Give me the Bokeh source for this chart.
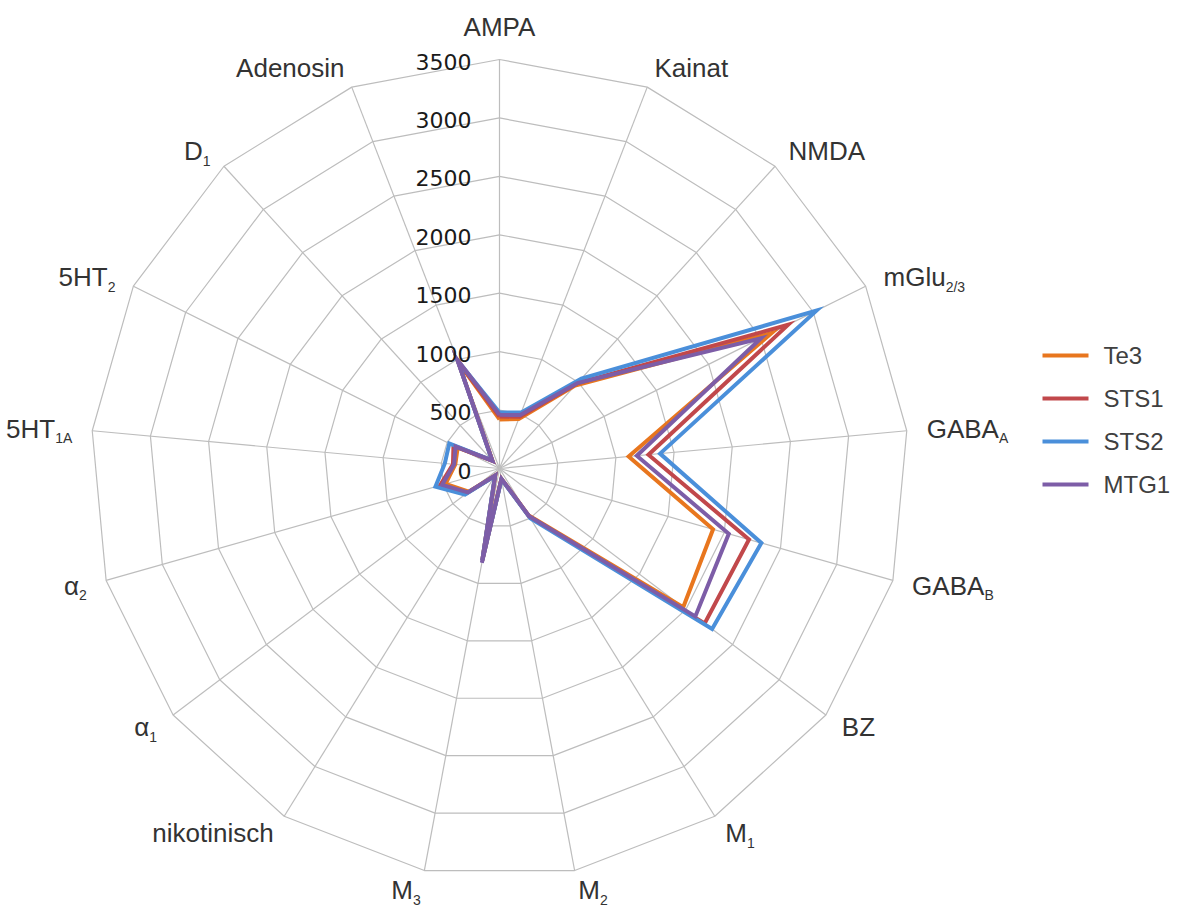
import math

from bokeh.core.properties import value
from bokeh.embed import file_html
from bokeh.models import Range1d
from bokeh.plotting import figure
from bokeh.resources import INLINE

# Receptor axes, clockwise from the top
label_main = ["AMPA", "Kainat", "NMDA", "mGlu", "GABA", "GABA", "BZ", "M", "M", "M",
              "nikotinisch", "α", "α", "5HT", "5HT", "D", "Adenosin"]
label_sub = ["", "", "", "2/3", "A", "B", "", "1", "2", "3",
             "", "1", "2", "1A", "2", "1", ""]

# Receptor densities per region (fmol/mg protein)
te3 = [420, 455, 960, 2600, 1110, 1900, 1970, 470, 90, 800, 70, 330, 480, 380, 400, 90, 980]
sts1 = [445, 475, 985, 2760, 1280, 2220, 2200, 480, 90, 800, 70, 350, 530, 400, 440, 90, 980]
sts2 = [480, 515, 1040, 3030, 1380, 2330, 2280, 500, 95, 800, 75, 370, 570, 470, 480, 95, 990]
mtg1 = [460, 490, 990, 2500, 1180, 2040, 2100, 480, 90, 820, 70, 340, 510, 390, 420, 90, 1000]

series_names = ["Te3", "STS1", "STS2", "MTG1"]
series_values = [te3, sts1, sts2, mtg1]
series_colors = ["#E8761E", "#C1484B", "#4A8FDA", "#7D5DA7"]

tick_values = [0, 500, 1000, 1500, 2000, 2500, 3000, 3500]

# Canvas geometry (pixels)
W, H = 1185, 910
CX, CY = 499, 468          # centre of the web
R_MAX = 3500
R_PX = 409                 # radius of the outer ring
k = R_MAX / R_PX           # data units per pixel

n = len(label_main)
ux = [math.sin(2 * math.pi * i / n) for i in range(n)]
uy = [math.cos(2 * math.pi * i / n) for i in range(n)]

p = figure(width=W, height=H,
           x_range=Range1d(-CX * k, (W - CX) * k),
           y_range=Range1d(-(H - CY) * k, CY * k),
           output_backend="svg", toolbar_location=None,
           x_axis_location=None, y_axis_location=None,
           min_border=0, outline_line_color=None,
           background_fill_color="white", border_fill_color="white")
p.grid.visible = False

GRID = "#BDBDBD"

# spokes
p.segment(x0=[0] * n, y0=[0] * n,
          x1=[R_MAX * a for a in ux], y1=[R_MAX * b for b in uy],
          line_color=GRID, line_width=1.2)

# rings
ring_xs, ring_ys = [], []
for r in tick_values[1:]:
    ring_xs.append([r * a for a in ux] + [r * ux[0]])
    ring_ys.append([r * b for b in uy] + [r * uy[0]])
p.multi_line(xs=ring_xs, ys=ring_ys, line_color=GRID, line_width=1.2)

# data series
for name, vals, col in zip(series_names, series_values, series_colors):
    xs = [v * a for v, a in zip(vals, ux)] + [vals[0] * ux[0]]
    ys = [v * b for v, b in zip(vals, uy)] + [vals[0] * uy[0]]
    p.line(xs, ys, line_color=col, line_width=4, line_join="miter")

# radial tick labels along the top spoke
p.text(x=[0] * len(tick_values), y=tick_values, text=[str(t) for t in tick_values],
       x_offset=-28, y_offset=2, text_align="right", text_baseline="middle",
       text_font=value("DejaVu Sans"), text_font_size="22px", text_color="#1A1A1A")

# approximate Liberation Sans advance widths (em)
ADV = {"A": .667, "B": .667, "D": .722, "G": .778, "H": .722, "K": .667, "M": .833,
       "N": .722, "P": .667, "T": .611, "Z": .611, "a": .556, "c": .5, "d": .556,
       "e": .556, "h": .556, "i": .222, "k": .5, "l": .222, "m": .833, "n": .556,
       "o": .556, "s": .5, "t": .278, "u": .556, "/": .278, "α": .58}


def text_width(s, size):
    return sum(ADV.get(ch, .556) for ch in s) * size


MAIN_SIZE, SUB_SIZE = 26, 14
LABEL_GAP = 20
SUB_DROP = 9.5
r_lab = R_PX + LABEL_GAP

groups = {}


def put(key, x, y, t):
    g = groups.setdefault(key, {"x": [], "y": [], "text": []})
    g["x"].append(x * k)
    g["y"].append(y * k)
    g["text"].append(t)


for i in range(n):
    ax, ay = r_lab * ux[i], r_lab * uy[i]
    main, sub = label_main[i], label_sub[i]
    wm, ws = text_width(main, MAIN_SIZE), text_width(sub, SUB_SIZE)
    if ux[i] > 0.05:
        put(("main", "left", "middle"), ax, ay, main)
        if sub:
            put(("sub", "left", "middle"), ax + wm, ay - SUB_DROP, sub)
    elif ux[i] < -0.05:
        put(("main", "right", "middle"), ax - ws, ay, main)
        if sub:
            put(("sub", "right", "middle"), ax, ay - SUB_DROP, sub)
    else:
        put(("main", "center", "bottom"), ax, ay - 2, main)

for (kind, align, base), g in groups.items():
    size = MAIN_SIZE if kind == "main" else SUB_SIZE
    p.text(x=g["x"], y=g["y"], text=g["text"], text_align=align, text_baseline=base,
           text_font=value("Liberation Sans"), text_font_size=f"{size}px",
           text_color="#333333")

# legend
LEG_X0, LEG_X1, LEG_TX = 1042, 1088, 1103
LEG_Y0, LEG_DY = 355, 43
for j, (name, col) in enumerate(zip(series_names, series_colors)):
    py = LEG_Y0 + j * LEG_DY
    yy = (CY - py) * k
    p.line([(LEG_X0 - CX) * k, (LEG_X1 - CX) * k], [yy, yy], line_color=col, line_width=4)
    p.text(x=[(LEG_TX - CX) * k], y=[yy], text=[name], text_align="left",
           text_baseline="middle", text_font=value("Liberation Sans"),
           text_font_size="24px", text_color="#404040")

open("out.html", "w").write(file_html(p, INLINE))
